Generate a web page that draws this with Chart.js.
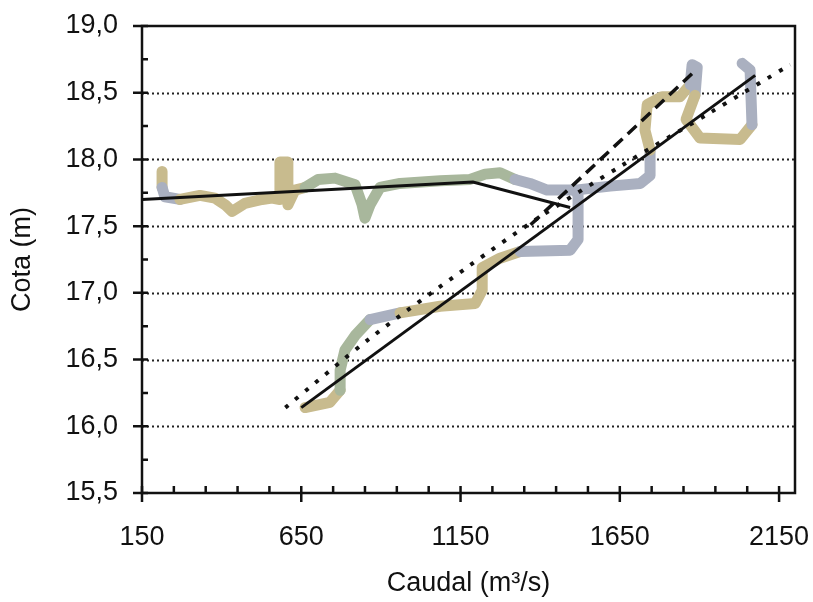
<!DOCTYPE html>
<html>
<head>
<meta charset="utf-8">
<script src="https://cdn.jsdelivr.net/npm/chart.js@4.4.1/dist/chart.umd.min.js"></script>
<style>
  html, body { margin: 0; padding: 0; background: #fff; }
  #wrap { width: 813px; height: 602px; }
</style>
</head>
<body>
<div id="wrap"><canvas id="grafico" width="813" height="602"></canvas></div>
<script>
// Ejes
const xTicks = [150, 650, 1150, 1650, 2150];
const yTicks = [15.5, 16.0, 16.5, 17.0, 17.5, 18.0, 18.5, 19.0];

// Rectas / curvas de ajuste [caudal, cota]
const ajusteBajo = [[150, 17.70], [1189, 17.83], [1494, 17.64]];
const ajusteLineal = [[650, 16.14], [2075, 18.63]];
const ajusteDiscontinuo = [[1370, 17.51], [1880, 18.65]];
const ajustePunteado = [[600, 16.14], [866, 16.66], [1170, 17.19], [1393, 17.56], [1660, 17.96], [1933, 18.35], [2185, 18.71]];

// Registro observado (rama de descenso, tramos por color)
const descenso1 = [[213, 17.91], [213, 17.79]];
const descenso2 = [[213, 17.79], [222, 17.72], [269, 17.70]];
const descenso3 = [[269, 17.70], [332, 17.73], [379, 17.71], [411, 17.66], [433, 17.61], [473, 17.67], [527, 17.70], [558, 17.71], [583, 17.70], [583, 17.98], [608, 17.98], [608, 17.66], [630, 17.77], [662, 17.79]];
const descenso4 = [[662, 17.79], [703, 17.85], [756, 17.86], [819, 17.81], [841, 17.66], [850, 17.56], [866, 17.66], [897, 17.79], [960, 17.82], [1086, 17.84], [1180, 17.85], [1227, 17.89], [1274, 17.90], [1321, 17.85]];
const descenso5 = [[1321, 17.85], [1368, 17.82], [1422, 17.77], [1510, 17.77], [1620, 17.80], [1714, 17.82], [1745, 17.88], [1745, 18.07]];
// Lazo de crecida
const lazo1 = [[1745, 18.07], [1729, 18.22], [1736, 18.41], [1783, 18.47], [1839, 18.47], [1871, 18.56]];
const lazo2 = [[1871, 18.56], [1877, 18.71], [1893, 18.69], [1886, 18.48]];
const lazo3 = [[1886, 18.48], [1858, 18.30], [1902, 18.16], [2028, 18.15], [2065, 18.26]];
const lazo4 = [[2065, 18.26], [2059, 18.67], [2034, 18.72]];
// Rama de ascenso
const ascenso1 = [[662, 16.14], [740, 16.18], [772, 16.27]];
const ascenso2 = [[772, 16.27], [772, 16.42], [787, 16.57], [819, 16.68], [866, 16.80]];
const ascenso3 = [[866, 16.80], [960, 16.85]];
const ascenso4 = [[960, 16.85], [1086, 16.90], [1196, 16.92], [1218, 17.02], [1218, 17.19], [1274, 17.26], [1337, 17.31]];
const ascenso5 = [[1337, 17.31], [1494, 17.32], [1519, 17.40], [1519, 17.73], [1510, 17.77]];

const TAN = 'rgb(200,187,142)';
const GRIS = 'rgb(170,176,192)';
const VERDE = 'rgb(168,183,156)';

const pts = arr => arr.map(([x, y]) => ({ x, y }));

function linea(data, extra) {
  return Object.assign({
    data: pts(data),
    showLine: true,
    pointRadius: 0,
    borderColor: '#111',
    borderWidth: 3,
    fill: false
  }, extra);
}

function trazo(data, color) {
  return linea(data, { borderColor: color, borderWidth: 11, borderJoinStyle: 'round', borderCapStyle: 'round' });
}

const fmt = v => v.toFixed(1).replace('.', ',');

// marco, rejilla y marcas de los ejes
const marco = {
  id: 'marco',
  beforeDatasetsDraw(chart) {
    const { ctx, chartArea: a, scales: { y } } = chart;
    ctx.save();
    ctx.strokeStyle = '#222';
    ctx.lineWidth = 1.8;
    ctx.setLineDash([2, 3]);
    yTicks.slice(1, -1).forEach(v => {
      const py = Math.round(y.getPixelForValue(v)) + 0.5;
      ctx.beginPath(); ctx.moveTo(a.left, py); ctx.lineTo(a.right, py); ctx.stroke();
    });
    ctx.restore();
  },
  afterDatasetsDraw(chart) {
    const { ctx, chartArea: a, scales: { x, y } } = chart;
    ctx.save();
    ctx.strokeStyle = '#111';
    ctx.lineWidth = 2.5;
    ctx.strokeRect(a.left, a.top, a.right - a.left, a.bottom - a.top);
    ctx.beginPath();
    for (let v = 15.5; v <= 19.001; v += 0.25) {
      const py = y.getPixelForValue(v);
      const mayor = Math.abs(v * 2 - Math.round(v * 2)) < 1e-6;
      ctx.moveTo(a.left - (mayor ? 9 : 0), py);
      ctx.lineTo(a.left + 6, py);
    }
    for (let v = 150; v <= 2150; v += 100) {
      const px = x.getPixelForValue(v);
      const mayor = (v - 150) % 500 === 0;
      ctx.moveTo(px, a.bottom + (mayor ? 9 : 0));
      ctx.lineTo(px, a.bottom - 7);
    }
    ctx.stroke();
    ctx.restore();
  }
};

const fuente = { family: 'Liberation Sans, Arial, sans-serif', size: 27 };

new Chart(document.getElementById('grafico'), {
  type: 'scatter',
  data: {
    datasets: [
      linea(ajusteBajo),
      linea(ajusteLineal),
      linea(ajusteDiscontinuo, { borderDash: [12, 7], borderWidth: 3.5 }),
      linea(ajustePunteado, { borderDash: [4, 9], borderWidth: 4, tension: 0.3 }),
      trazo(lazo4, GRIS),
      trazo(lazo3, TAN),
      trazo(lazo2, GRIS),
      trazo(lazo1, TAN),
      trazo(descenso5, GRIS),
      trazo(descenso4, VERDE),
      trazo(descenso3, TAN),
      trazo(descenso2, GRIS),
      trazo(descenso1, TAN),
      trazo(ascenso5, GRIS),
      trazo(ascenso4, TAN),
      trazo(ascenso3, GRIS),
      trazo(ascenso2, VERDE),
      trazo(ascenso1, TAN)
    ]
  },
  options: {
    responsive: false,
    animation: false,
    layout: { padding: { left: 0, top: 26, right: 18, bottom: 0 } },
    plugins: { legend: { display: false }, tooltip: { enabled: false } },
    scales: {
      x: {
        type: 'linear',
        min: 150,
        max: 2200,
        afterBuildTicks: s => { s.ticks = xTicks.map(v => ({ value: v })); },
        afterFit: s => { s.height = 109; s.paddingLeft = 0; s.paddingRight = 0; },
        grid: { display: false, drawTicks: false },
        border: { display: false },
        ticks: { color: '#111', font: fuente, padding: 28, maxRotation: 0, autoSkip: false, callback: v => String(v) },
        title: { display: true, text: 'Caudal (m³/s)', color: '#111', font: fuente, padding: { top: 0, bottom: 2 } }
      },
      y: {
        min: 15.5,
        max: 19,
        afterBuildTicks: s => { s.ticks = yTicks.map(v => ({ value: v })); },
        afterFit: s => { s.width = 142; s.paddingTop = 0; s.paddingBottom = 0; },
        grid: { display: false, drawTicks: false },
        border: { display: false },
        ticks: { color: '#111', font: fuente, padding: 24, callback: v => fmt(v) },
        title: { display: true, text: 'Cota (m)', color: '#111', font: fuente, padding: { top: 6, bottom: 0 } }
      }
    }
  },
  plugins: [marco]
});
</script>
</body>
</html>
